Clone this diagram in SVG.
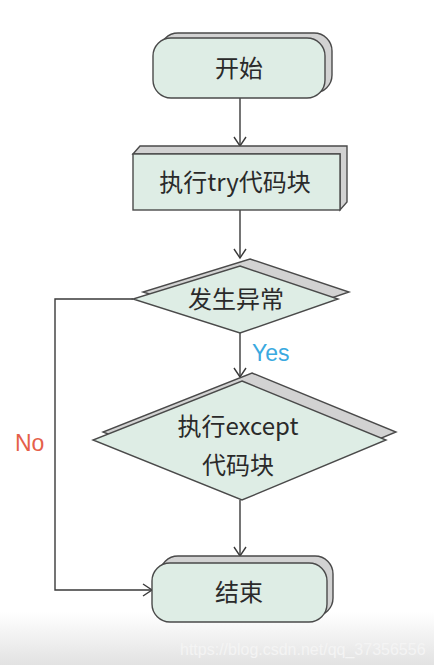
<svg xmlns="http://www.w3.org/2000/svg" width="434" height="665" viewBox="0 0 434 665">
<style>
.front{fill:#deede5;stroke:#4a4a4a;stroke-width:1.4}
.back{fill:#d2d2d2;stroke:#4a4a4a;stroke-width:1.4}
.lbl{font-family:"Noto Sans CJK SC","Noto Sans",sans-serif;font-size:24px;fill:#2a2a2a;text-anchor:middle}
.conn{fill:none;stroke:#3a3a3a;stroke-width:1.4}
</style>
<defs>
<marker id="arr" markerUnits="userSpaceOnUse" markerWidth="12" markerHeight="14" refX="10" refY="7" orient="auto">
<path d="M1,1 L10,7 L1,13" fill="none" stroke="#3a3a3a" stroke-width="1.4"/>
</marker>
<linearGradient id="bot" x1="0" y1="0" x2="0" y2="1">
<stop offset="0" stop-color="#ffffff"/>
<stop offset="1" stop-color="#e2e2e2"/>
</linearGradient>
</defs>
<rect width="434" height="665" fill="#ffffff"/>
<rect x="0" y="612" width="434" height="53" fill="url(#bot)"/>
<text x="180" y="655" font-family="Liberation Sans, sans-serif" font-size="16" fill="#f4f4f4">https://blog.csdn.net/qq_37356556</text>

<g id="connectors">
<line class="conn" x1="240" y1="98" x2="240" y2="146" marker-end="url(#arr)"/>
<line class="conn" x1="240" y1="210" x2="240" y2="258" marker-end="url(#arr)"/>
<line class="conn" x1="240" y1="333" x2="240" y2="377" marker-end="url(#arr)"/>
<line class="conn" x1="240" y1="500" x2="240" y2="556" marker-end="url(#arr)"/>
<polyline class="conn" points="133,299 55,299 55,590 152,590" marker-end="url(#arr)"/>
<text x="252" y="361" font-family="Liberation Sans, sans-serif" font-size="23" fill="#3aa9e0">Yes</text>
<text x="15" y="451" font-family="Liberation Sans, sans-serif" font-size="23" fill="#e5604a">No</text>
</g>

<g id="start">
<rect class="back" x="160" y="33" width="172" height="60" rx="18"/>
<rect class="front" x="153" y="38" width="172" height="60" rx="18"/>
<text class="lbl" x="239" y="77">开始</text>
</g>

<g id="try">
<path class="back" d="M133,154 L140,146 L347,146 L347,202 L340,210 L340,154 Z"/>
<rect class="front" x="133" y="154" width="207" height="56"/>
<text class="lbl" x="235" y="191">执行try代码块</text>
</g>

<g id="exception">
<polygon class="back" points="250,259 349,292 250,326 143,292"/>
<polygon class="front" points="240,266 338,299 240,333 133,299"/>
<text class="lbl" x="236" y="308">发生异常</text>
</g>

<g id="except">
<polygon class="back" points="252,373 396,432 252,492 103,432"/>
<polygon class="front" points="242,381 386,440 242,500 93,440"/>
<text class="lbl" x="238" y="435">执行except</text>
<text class="lbl" x="238" y="474">代码块</text>
</g>

<g id="end">
<rect class="back" x="160" y="556" width="173" height="60" rx="18"/>
<rect class="front" x="152" y="563" width="175" height="59" rx="18"/>
<text class="lbl" x="239" y="601">结束</text>
</g>
</svg>
